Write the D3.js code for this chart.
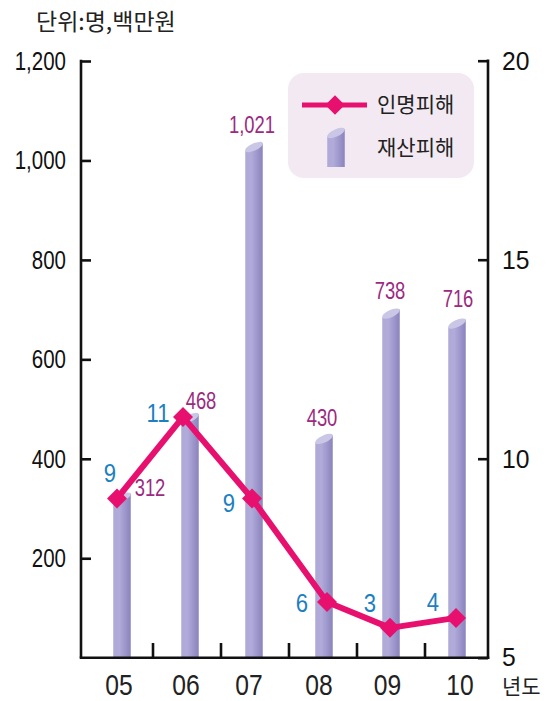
<!DOCTYPE html>
<html><head><meta charset="utf-8">
<script src="https://cdn.jsdelivr.net/npm/d3@7"></script>
<style>
html,body{margin:0;padding:0;background:#fff;}
svg{display:block;}
.num{font-family:"Liberation Sans",Arial,sans-serif;}
.kr{font-family:"Noto Sans CJK KR","Noto Sans",sans-serif;}
</style></head>
<body>
<script>
// ---- data ----
const years = ["05","06","07","08","09","10"];
const propertyLabels = ["312","468","1,021","430","738","716"];      // 재산피해 (백만원) labels
const propertyPlotted = [322, 482, 1027, 440, 692, 672];             // bar heights as drawn
const casualties = [9, 11, 9, 6, 3, 4];                               // 인명피해 (명) labels
const casualtiesPlotted = [9.0, 11.05, 9.0, 6.4, 5.75, 6.0];          // line positions as drawn
const leftTicks = [200, 400, 600, 800, 1000, 1200];
const rightTicks = [5, 10, 15, 20];
const unitLabel = "단위:명,백만원";
const xUnit = "년도";
const legendNames = ["인명피해", "재산피해"];

const W = 555, H = 701;
const svg = d3.select("body").append("svg").attr("width", W).attr("height", H);

const x = d3.scalePoint().domain(years).range([118, 458]);
const yL = d3.scaleLinear().domain([0, 1200]).range([657.7, 61]);
const yR = d3.scaleLinear().domain([5, 20]).range([657.7, 60.7]);

const defs = svg.append("defs");
const grad = defs.append("linearGradient").attr("id", "barGrad").attr("x1", "0").attr("x2", "1").attr("y1", "0").attr("y2", "0");
grad.append("stop").attr("offset", "0").attr("stop-color", "#aea9d6");
grad.append("stop").attr("offset", "0.35").attr("stop-color", "#b0abd9");
grad.append("stop").attr("offset", "1").attr("stop-color", "#8a83be");

const pink = "#e8106e", blue = "#1b7fc2", purple = "#9b2a80";

function txt(g, cls, px, py, t, size, anchor, fill, sx) {
  return g.append("text").attr("class", cls)
    .attr("transform", `translate(${px},${py}) scale(${sx},1)`)
    .attr("dy", "0.36em").attr("text-anchor", anchor)
    .attr("font-size", size).attr("fill", fill).text(t);
}

// unit label
svg.append("text").attr("class", "kr").attr("x", 36).attr("y", 30)
  .attr("font-size", 23).attr("fill", "#222").text(unitLabel);

// legend box
const lg = svg.append("g");
lg.append("rect").attr("x", 288).attr("y", 73).attr("width", 186).attr("height", 105)
  .attr("rx", 16).attr("fill", "#f3e9f2");

// bar drawing helper
const bw = 17.5, slant = 4;
function barPath(cx, yTop, yBot) {
  return `M${cx - bw/2},${yBot} L${cx - bw/2},${yTop + slant} L${cx + bw/2},${yTop - slant} L${cx + bw/2},${yBot} Z`;
}
function drawBar(g, cx, yTop, yBot) {
  g.append("path").attr("d", barPath(cx, yTop, yBot)).attr("fill", "url(#barGrad)");
  const a = Math.sqrt((bw/2) * (bw/2) + slant * slant);
  const ang = Math.atan2(-slant, bw/2) * 180 / Math.PI;
  g.append("ellipse").attr("cx", 0).attr("cy", 0).attr("rx", a).attr("ry", 3.6)
    .attr("transform", `translate(${cx},${yTop}) rotate(${ang})`)
    .attr("fill", "#c9c6e6");
}

// legend items
lg.append("line").attr("x1", 302).attr("x2", 367).attr("y1", 105).attr("y2", 105)
  .attr("stroke", pink).attr("stroke-width", 5);
lg.append("path").attr("d", d3.symbol(d3.symbolSquare, 190)())
  .attr("transform", "translate(335,105) rotate(45)").attr("fill", pink);
const lgBar = lg.append("g");
drawBar(lgBar, 336, 133, 167);
lg.append("text").attr("class", "kr").attr("x", 377).attr("y", 105).attr("dy", "0.35em")
  .attr("font-size", 21).attr("fill", "#222").text(legendNames[0]);
lg.append("text").attr("class", "kr").attr("x", 377).attr("y", 148).attr("dy", "0.35em")
  .attr("font-size", 21).attr("fill", "#222").text(legendNames[1]);

// bars
const barsG = svg.append("g");
const barOff = [4, 4, 0, 2, 1, -1];
years.forEach((yr, i) => {
  drawBar(barsG, x(yr) + barOff[i], yL(propertyPlotted[i]), yL(0));
});

// axes
const axisG = svg.append("g");
const leftAxis = d3.axisRight(yL).tickValues(leftTicks).tickSize(10).tickFormat("");
const gl = axisG.append("g").attr("transform", "translate(81,0)").call(leftAxis);
gl.select(".domain").remove();
gl.selectAll("line").attr("stroke", "#111").attr("stroke-width", 2.6);
axisG.append("line").attr("x1", 81).attr("x2", 81).attr("y1", yL(1200) - 1.3).attr("y2", yL(0))
  .attr("stroke", "#111").attr("stroke-width", 2.6);
leftTicks.forEach(t => {
  txt(axisG, "num", 66, yL(t), d3.format(",")(t), 25, "end", "#111", 0.82);
});

const rightAxis = d3.axisLeft(yR).tickValues(rightTicks).tickSize(10).tickFormat("");
const gr = axisG.append("g").attr("transform", "translate(488,0)").call(rightAxis);
gr.select(".domain").remove();
gr.selectAll("line").attr("stroke", "#111").attr("stroke-width", 2.6);
axisG.append("line").attr("x1", 488).attr("x2", 488).attr("y1", yR(20) - 1.3).attr("y2", yR(5) + 1.3)
  .attr("stroke", "#111").attr("stroke-width", 2.6);
rightTicks.forEach(t => {
  txt(axisG, "num", 502, yR(t) - (t === 5 ? 1 : 0), t, 26, "start", "#111", 0.95);
});

// bottom axis
axisG.append("line").attr("x1", 79.7).attr("x2", 489.3).attr("y1", 657.7).attr("y2", 657.7)
  .attr("stroke", "#111").attr("stroke-width", 2.6);
const step = x.step();
years.slice(1).forEach(yr => {
  const bx = x(yr) - step / 2 + 1;
  axisG.append("line").attr("x1", bx).attr("x2", bx).attr("y1", 657.7).attr("y2", 643)
    .attr("stroke", "#111").attr("stroke-width", 2.6);
});
const catX = [119, 186, 249, 319, 387.5, 460];
years.forEach((yr, i) => {
  txt(axisG, "num", x(yr) + (catX[i] - x(yr)), 685, yr, 29, "middle", "#222", 0.85);
});
svg.append("text").attr("class", "kr").attr("x", 502).attr("y", 686).attr("dy", "0.36em")
  .attr("font-size", 21).attr("fill", "#222").text(xUnit);

// line
const lineX = [117, 183, 252, 327, 390, 456];
const pts = years.map((yr, i) => [x(yr) + (lineX[i] - x(yr)), yR(casualtiesPlotted[i])]);
svg.append("path").attr("d", d3.line()(pts)).attr("fill", "none")
  .attr("stroke", pink).attr("stroke-width", 6).attr("stroke-linejoin", "round");
pts.forEach(p => {
  svg.append("path").attr("d", d3.symbol(d3.symbolSquare, 200)())
    .attr("transform", `translate(${p[0]},${p[1]}) rotate(45)`).attr("fill", pink);
});

// casualty labels (blue)
const casPos = [[110, 473], [158, 413], [229, 503], [302, 603], [370, 603], [433, 602]];
casualties.forEach((v, i) => {
  txt(svg, "num", casPos[i][0], casPos[i][1], v, 26, "middle", blue, 0.85);
});
// property labels (purple)
const propPos = [[150, 488], [201, 401], [252, 125], [322, 418], [390, 291], [458, 299]];
propertyLabels.forEach((v, i) => {
  txt(svg, "num", propPos[i][0], propPos[i][1], v, 23, "middle", purple, 0.8);
});
</script>
</body></html>
